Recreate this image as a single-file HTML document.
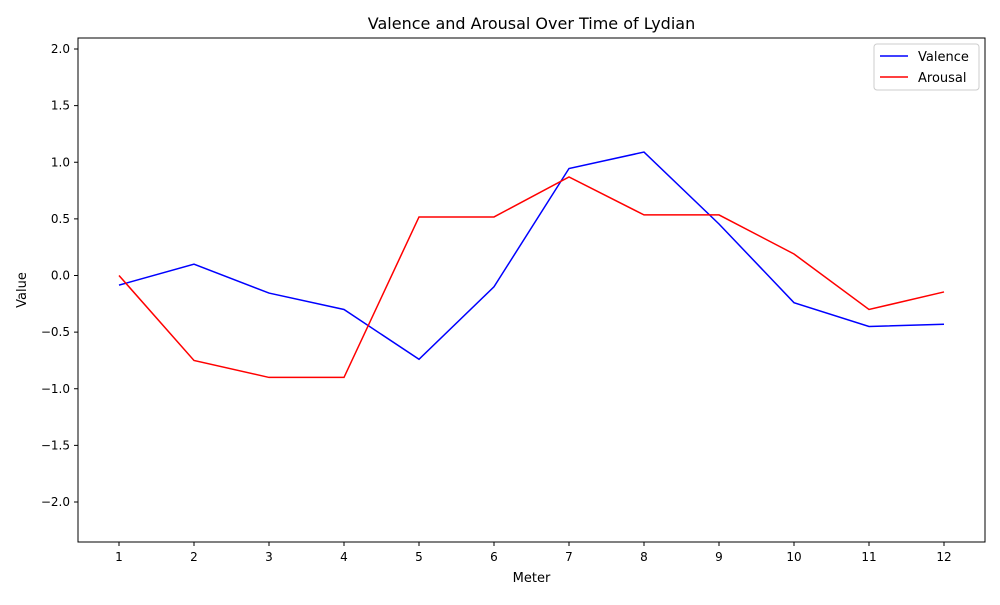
<!DOCTYPE html>
<html><head><meta charset="utf-8"><style>
body{margin:0;background:#fff;font-family:"Liberation Sans","DejaVu Sans",sans-serif}
svg text{font-family:"DejaVu Sans","Liberation Sans",sans-serif}
</style></head><body>
<svg id="chart" width="1000" height="600">
<rect width="1000" height="600" fill="#fff"/>
<text x="531.5" y="29" font-size="16" text-anchor="middle">Valence and Arousal Over Time of Lydian</text>
<g id="ticks"></g>
<g id="lines"></g>
<rect x="78" y="38" width="907" height="504" fill="none" stroke="#000" stroke-width="1"/>
<text x="531.5" y="582" font-size="13" text-anchor="middle">Meter</text>
<text x="26" y="290" font-size="13" text-anchor="middle" transform="rotate(-90 26 290)">Value</text>
<g>
<rect x="874" y="44" width="105" height="46" fill="#fff" stroke="#ccc" rx="3"/>
<g><line x1="880" y1="56" x2="908" y2="56" stroke="blue" stroke-width="1.5"/><text x="918" y="61" font-size="13">Valence</text></g>
<g><line x1="880" y1="77" x2="908" y2="77" stroke="red" stroke-width="1.5"/><text x="918" y="82" font-size="13">Arousal</text></g>
</g>
</svg>
<script>
const meters=[1,2,3,4,5,6,7,8,9,10,11,12];
const valence=[-0.085,0.10,-0.155,-0.30,-0.74,-0.10,0.945,1.09,0.455,-0.24,-0.45,-0.43];
const arousal=[0.0,-0.75,-0.90,-0.90,0.517,0.517,0.87,0.535,0.535,0.19,-0.30,-0.145];
const yTicks=[-2.0,-1.5,-1.0,-0.5,0.0,0.5,1.0,1.5,2.0];
const NS="http://www.w3.org/2000/svg";
const xs=m=>119+(m-1)*75;
const ys=v=>275.5-v*113.25;
const tg=document.getElementById('ticks');
function mk(tag,attrs,parent){const e=document.createElementNS(NS,tag);for(const k in attrs)e.setAttribute(k,attrs[k]);parent.appendChild(e);return e;}
meters.forEach(m=>{
 const l=mk('line',{x1:xs(m),x2:xs(m),y1:542,y2:546,stroke:'#000'},tg);
 
 
 const t=mk('text',{x:xs(m),y:561,'font-size':12,'text-anchor':'middle'},tg);t.textContent=m;
 
 
});
yTicks.forEach(v=>{
 const l=mk('line',{x1:74,x2:78,y1:ys(v),y2:ys(v),stroke:'#000'},tg);
 
 
 const t=mk('text',{x:70,y:ys(v)+4,'font-size':12,'text-anchor':'end'},tg);
 t.textContent=(v<0?'\u2212':'')+Math.abs(v).toFixed(1);
 
 
});
const lg=document.getElementById('lines');
function series(vals,color,name){
 const p=mk('polyline',{points:vals.map((v,i)=>xs(meters[i])+','+ys(v)).join(' '),fill:'none',stroke:color,'stroke-width':1.5},lg);
 
 
}
series(valence,'blue','valence-line');
series(arousal,'red','arousal-line');
</script>
</body></html>
